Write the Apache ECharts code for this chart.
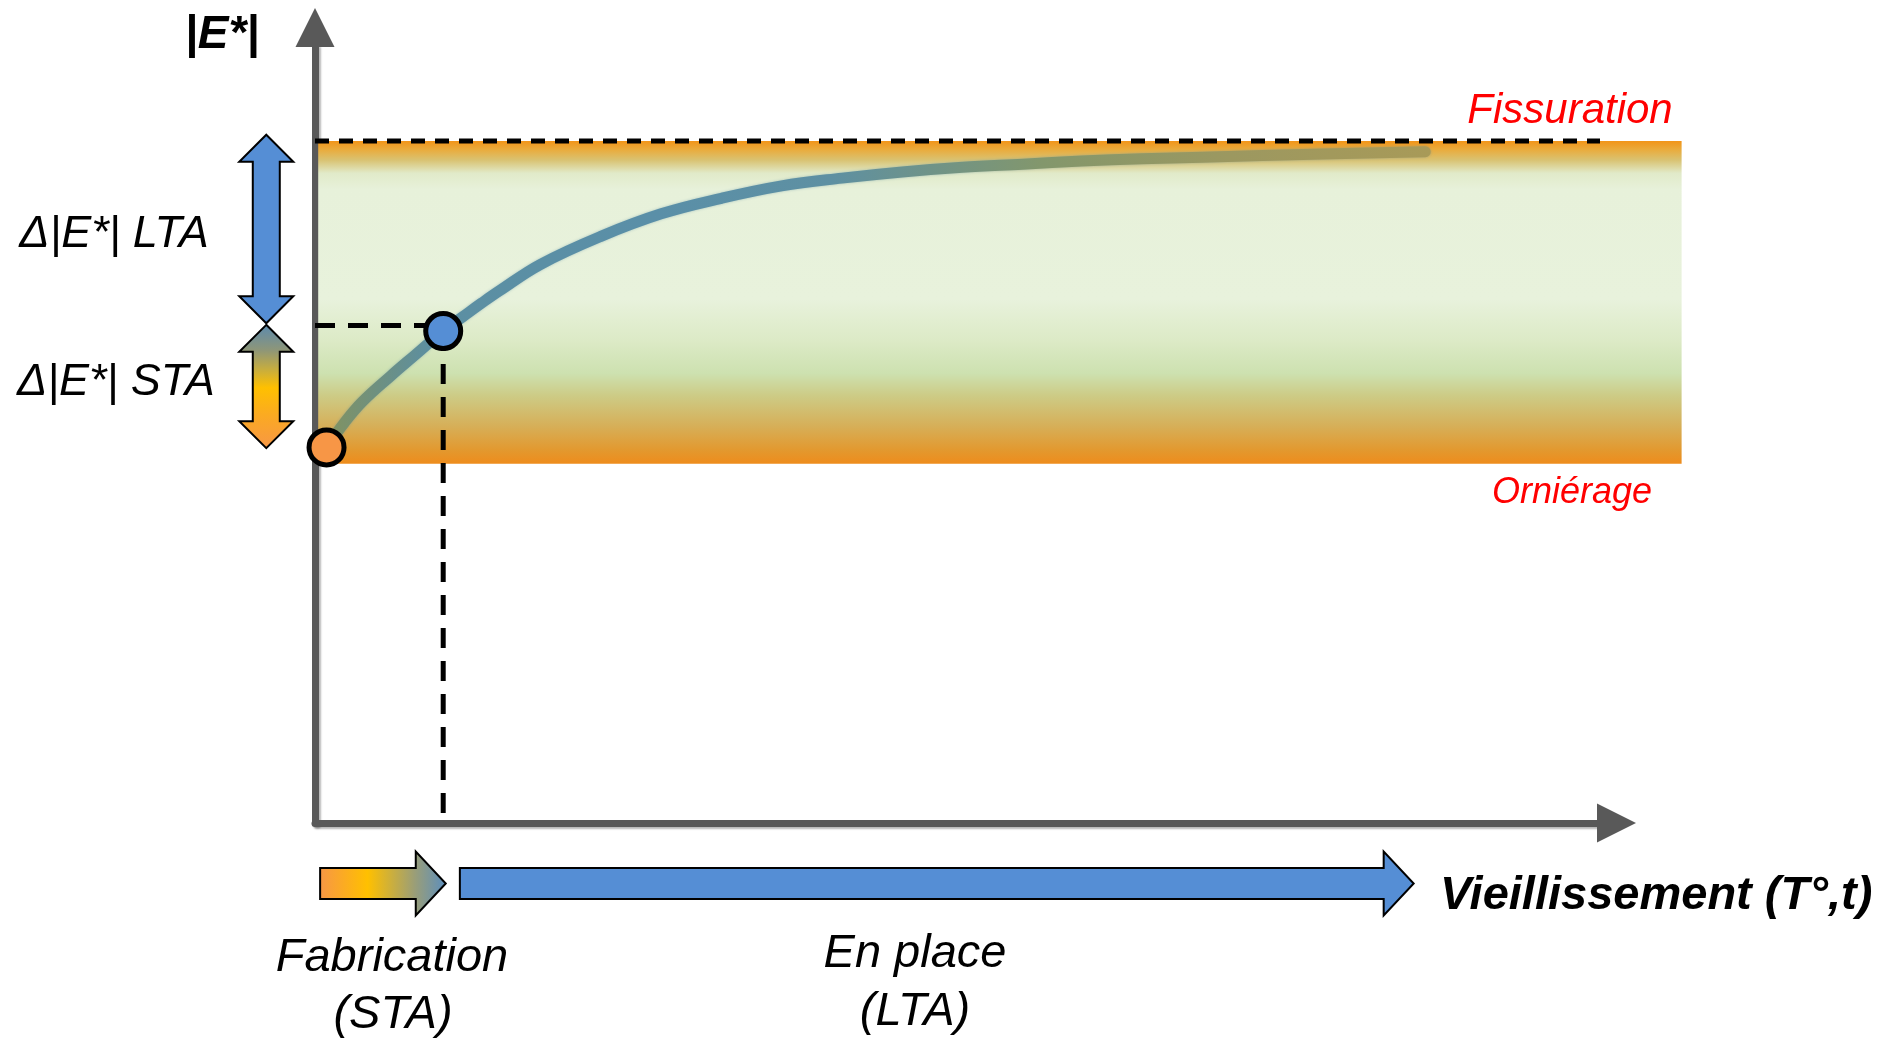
<!DOCTYPE html>
<html>
<head>
<meta charset="utf-8">
<script src="https://cdn.jsdelivr.net/npm/echarts@6/dist/echarts.min.js"></script>
<style>
  html, body { margin: 0; padding: 0; background: #ffffff; }
  #chart { width: 1885px; height: 1040px; }
</style>
</head>
<body>
<div id="chart"></div>
<script>
// Evolution of the modulus |E*| with ageing (schematic units, 0-100)
const curveX = [0.9, 2.3, 3.7, 5.9, 7.8, 10.0, 11.5, 13.0, 14.4, 17.6, 22.3, 27.0, 31.7, 36.4, 41.1, 45.8, 50.5, 55.2, 59.8, 64.5, 69.2, 78.6, 86.6];
const curveY = [48.4, 51.6, 54.3, 57.6, 60.3, 63.4, 65.2, 67.0, 68.6, 72.0, 75.6, 78.5, 80.5, 82.1, 83.1, 83.9, 84.5, 84.9, 85.3, 85.6, 85.8, 86.2, 86.5];

// Key states: after manufacture and at laying
const startPoint = [0.9, 48.4];
const layingPoint = [10.0, 63.4];
const layingGuideLevel = 64.1;
const layingGuideBottom = 1.3;

// Acceptable stiffness window
const fissurationLevel = 87.9;
const ornierageLevel = 46.3;
const windowStart = 0.25;
const windowEnd = 106.6;
const fissurationLineEnd = 100.7;

// Stiffness increase ranges (LTA / STA)
const deltaNames = ['Δ|E*| LTA', 'Δ|E*| STA'];
const deltaLow = [64.4, 48.3];
const deltaHigh = [88.7, 64.2];

// Ageing phases along the time axis
const phaseNames = ['Fabrication', 'En place'];
const phaseSubNames = ['(STA)', '(LTA)'];
const phaseStart = [0.4, 11.3];
const phaseEnd = [10.2, 85.7];

const DELTA_X = -3.8;     // column of the double arrows, left of the |E*| axis
const PHASE_LEVEL = -7.8; // row of the phase arrows, below the time axis

const FONT = '"Liberation Sans", Arial, Helvetica, sans-serif';
const BLUE = '#558ED5';
const ORANGE = '#F79646';

const chart = echarts.init(document.getElementById('chart'), null, { renderer: 'canvas', width: 1885, height: 1040 });

const axisLineStyle = {
  color: '#595959',
  width: 7,
  shadowColor: 'rgba(0,0,0,0.28)',
  shadowBlur: 2,
  shadowOffsetX: 2,
  shadowOffsetY: 2
};

const bandFill = {
  type: 'linear', x: 0, y: 0, x2: 0, y2: 1, global: false,
  colorStops: [
    { offset: 0.00, color: '#F29418' },
    { offset: 0.028, color: '#E9AC3E' },
    { offset: 0.06, color: '#D9C373' },
    { offset: 0.10, color: '#E1EAC9' },
    { offset: 0.15, color: '#E7F1DA' },
    { offset: 0.49, color: '#E8F2DC' },
    { offset: 0.62, color: '#DCEAC6' },
    { offset: 0.72, color: '#CDE1B0' },
    { offset: 0.79, color: '#CDCB85' },
    { offset: 0.88, color: '#D6B05A' },
    { offset: 0.96, color: '#E3982E' },
    { offset: 1.00, color: '#EE8C1C' }
  ]
};

const staFillVertical = {
  type: 'linear', x: 0, y: 0, x2: 0, y2: 1, global: false,
  colorStops: [
    { offset: 0.00, color: '#5A8AB0' },
    { offset: 0.21, color: '#8E9678' },
    { offset: 0.37, color: '#C9AE3C' },
    { offset: 0.51, color: '#FFC000' },
    { offset: 0.73, color: '#FBAA22' },
    { offset: 1.00, color: ORANGE }
  ]
};

const staFillHorizontal = {
  type: 'linear', x: 0, y: 0, x2: 1, y2: 0, global: false,
  colorStops: [
    { offset: 0.00, color: ORANGE },
    { offset: 0.38, color: '#FFC000' },
    { offset: 0.75, color: '#9A9E78' },
    { offset: 1.00, color: '#5A8EC0' }
  ]
};

const curveColor = new echarts.graphic.LinearGradient(0, 0, 1, 0, [
  { offset: 0.00, color: '#85935C' },
  { offset: 0.05, color: '#6E9080' },
  { offset: 0.10, color: '#5C8FA2' },
  { offset: 0.30, color: '#5A8FA8' },
  { offset: 0.46, color: '#5E90A2' },
  { offset: 0.55, color: '#6F9388' },
  { offset: 0.65, color: '#83976C' },
  { offset: 0.82, color: '#9C9860' },
  { offset: 1.00, color: '#A89A58' }
]);

const dashGuide = { color: '#000000', width: 5, type: [20, 13] };

function textEl(text, x, y, font, fill, align) {
  return {
    type: 'text', x: x, y: y, z: 10,
    style: { text: text, font: font, fill: fill || '#000000', align: align || 'center', verticalAlign: 'middle' }
  };
}

const option = {
  animation: false,
  backgroundColor: '#ffffff',
  grid: { left: 315, right: 288, top: 47, bottom: 217, containLabel: false, outerBoundsMode: 'none' },
  xAxis: {
    type: 'value', min: 0, max: 100,
    axisLine: {
      show: true, onZero: false,
      symbol: ['none', 'triangle'], symbolSize: [39, 39], symbolOffset: [0, 19.5],
      lineStyle: axisLineStyle
    },
    axisTick: { show: false }, axisLabel: { show: false }, splitLine: { show: false }
  },
  yAxis: {
    type: 'value', min: 0, max: 100,
    axisLine: {
      show: true, onZero: false,
      symbol: ['none', 'triangle'], symbolSize: [39, 39], symbolOffset: [0, 19.5],
      lineStyle: axisLineStyle
    },
    axisTick: { show: false }, axisLabel: { show: false }, splitLine: { show: false }
  },
  series: [
    {
      // stiffness window between rutting and cracking
      name: 'window',
      type: 'custom',
      z: 1,
      clip: false,
      silent: true,
      encode: { x: [0, 2], y: [1, 3] },
      data: [[windowStart, ornierageLevel, windowEnd, fissurationLevel]],
      renderItem: function (params, api) {
        const p0 = api.coord([api.value(0), api.value(3)]);
        const p1 = api.coord([api.value(2), api.value(1)]);
        return {
          type: 'rect',
          shape: { x: p0[0], y: p0[1], width: p1[0] - p0[0], height: p1[1] - p0[1] },
          style: { fill: bandFill }
        };
      }
    },
    {
      name: 'fissuration',
      type: 'line',
      z: 3,
      clip: false,
      symbol: 'none',
      silent: true,
      data: [[0, fissurationLevel], [fissurationLineEnd, fissurationLevel]],
      lineStyle: { color: '#000000', width: 5, type: [14, 10] }
    },
    {
      name: '|E*|',
      type: 'line',
      z: 4,
      smooth: 0.4,
      symbol: 'none',
      silent: true,
      data: curveX.map(function (x, i) { return [x, curveY[i]]; }),
      lineStyle: {
        color: curveColor, width: 11, cap: 'round', join: 'round',
        shadowColor: 'rgba(90,140,160,0.45)', shadowBlur: 3
      }
    },
    {
      name: 'guide-h',
      type: 'line',
      z: 5,
      symbol: 'none',
      silent: true,
      data: [[0, layingGuideLevel], [layingPoint[0], layingGuideLevel]],
      lineStyle: dashGuide
    },
    {
      name: 'guide-v',
      type: 'line',
      z: 5,
      symbol: 'none',
      silent: true,
      data: [[layingPoint[0], layingPoint[1]], [layingPoint[0], layingGuideBottom]],
      lineStyle: dashGuide
    },
    {
      name: 'states',
      type: 'scatter',
      z: 6,
      clip: false,
      symbol: 'circle',
      symbolSize: 35,
      silent: true,
      data: [
        { value: startPoint, itemStyle: { color: ORANGE } },
        { value: layingPoint, itemStyle: { color: BLUE } }
      ],
      itemStyle: { borderColor: '#000000', borderWidth: 5, opacity: 1 }
    },
    {
      // vertical double arrows for the stiffness gains
      name: 'deltas',
      type: 'custom',
      z: 6,
      clip: false,
      silent: true,
      encode: { x: 0, y: [1, 2] },
      data: deltaNames.map(function (n, i) { return [DELTA_X, deltaLow[i], deltaHigh[i], i]; }),
      renderItem: function (params, api) {
        const x = api.value(0);
        const top = api.coord([x, api.value(2)]);
        const bot = api.coord([x, api.value(1)]);
        const cx = top[0], t = top[1], b = bot[1];
        const hl = 27, hw = 27, sw = 13.5;
        const pts = [
          [cx, t], [cx + hw, t + hl], [cx + sw, t + hl], [cx + sw, b - hl], [cx + hw, b - hl],
          [cx, b], [cx - hw, b - hl], [cx - sw, b - hl], [cx - sw, t + hl], [cx - hw, t + hl]
        ];
        return {
          type: 'polygon',
          shape: { points: pts },
          style: { fill: api.value(3) === 0 ? BLUE : staFillVertical, stroke: '#000000', lineWidth: 2, lineJoin: 'miter' }
        };
      }
    },
    {
      // ageing phases below the time axis
      name: 'phases',
      type: 'custom',
      z: 6,
      clip: false,
      silent: true,
      encode: { x: [0, 1], y: 2 },
      data: phaseNames.map(function (n, i) { return [phaseStart[i], phaseEnd[i], PHASE_LEVEL, i]; }),
      renderItem: function (params, api) {
        const p0 = api.coord([api.value(0), api.value(2)]);
        const p1 = api.coord([api.value(1), api.value(2)]);
        const s = p0[0], e = p1[0], c = p0[1];
        const hl = 30, hw = 32, sw = 15.5;
        const pts = [
          [s, c - sw], [e - hl, c - sw], [e - hl, c - hw], [e, c],
          [e - hl, c + hw], [e - hl, c + sw], [s, c + sw]
        ];
        return {
          type: 'polygon',
          shape: { points: pts },
          style: { fill: api.value(3) === 0 ? staFillHorizontal : BLUE, stroke: '#000000', lineWidth: 2, lineJoin: 'miter' }
        };
      }
    }
  ],
  graphic: [
    textEl('|E*|', 222, 35, 'italic bold 46px ' + FONT),
    textEl(deltaNames[0], 114, 234, 'italic 45px ' + FONT),
    textEl(deltaNames[1], 116, 382, 'italic 45px ' + FONT),
    textEl('Fissuration', 1570, 111, 'italic 42px ' + FONT, '#FF0000'),
    textEl('Orniérage', 1572, 493, 'italic 36px ' + FONT, '#FF0000'),
    textEl('Vieillissement (T°,t)', 1440, 896, 'italic bold 47px ' + FONT, '#000000', 'left'),
    textEl(phaseNames[0], 392, 958, 'italic 47px ' + FONT),
    textEl(phaseSubNames[0], 393, 1015, 'italic 47px ' + FONT),
    textEl(phaseNames[1], 915, 954, 'italic 47px ' + FONT),
    textEl(phaseSubNames[1], 915, 1012, 'italic 47px ' + FONT)
  ]
};

chart.setOption(option);
</script>
</body>
</html>
